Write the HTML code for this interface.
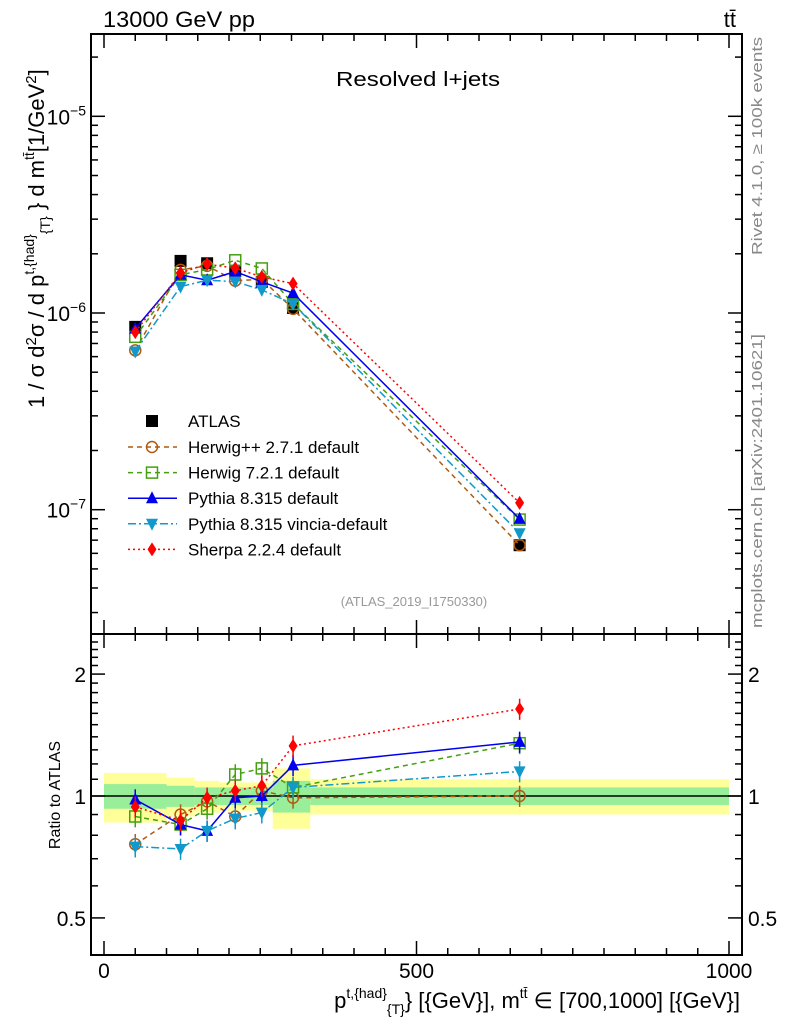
<!DOCTYPE html>
<html><head><meta charset="utf-8"><style>
body{margin:0;background:#fff;}
svg{display:block;font-family:"Liberation Sans",Arial,sans-serif;}
</style></head><body>
<svg id="chart" width="786" height="1024" viewBox="0 0 786 1024" xmlns="http://www.w3.org/2000/svg">
<text x="103" y="27" font-size="22" textLength="152" lengthAdjust="spacingAndGlyphs">13000 GeV pp</text>
<text x="736" y="27" font-size="22" text-anchor="end">tt̄</text>
<text x="336" y="86" font-size="20" textLength="164" lengthAdjust="spacingAndGlyphs">Resolved l+jets</text>
<text x="414" y="606" font-size="13" fill="#999" text-anchor="middle">(ATLAS_2019_I1750330)</text>
<text transform="translate(762,255) rotate(-90)" font-size="15" fill="#888" textLength="218" lengthAdjust="spacingAndGlyphs">Rivet 4.1.0, ≥ 100k events</text>
<text transform="translate(762,628) rotate(-90)" font-size="15" fill="#888" textLength="294" lengthAdjust="spacingAndGlyphs">mcplots.cern.ch [arXiv:2401.10621]</text>
<text transform="translate(44,408) rotate(-90)" font-size="22">1 / σ d<tspan font-size="15" dy="-8">2</tspan><tspan dy="8">σ / d p</tspan><tspan font-size="14" dy="-10">t,{had}</tspan><tspan font-size="14" dy="16">{T}</tspan><tspan dy="-6"> } d m</tspan><tspan font-size="14" dy="-10">tt̄</tspan><tspan dy="10">[1/GeV</tspan><tspan font-size="15" dy="-8">2</tspan><tspan dy="8">]</tspan></text>
<text transform="translate(60,795) rotate(-90)" font-size="16" text-anchor="middle">Ratio to ATLAS</text>
<text x="740" y="1008" font-size="22" text-anchor="end">p<tspan font-size="14" dy="-10">t,{had}</tspan><tspan font-size="14" dy="16">{T}</tspan><tspan dy="-6">} [{GeV}], m</tspan><tspan font-size="14" dy="-10">tt̄</tspan><tspan dy="10"> ∈ [700,1000] [{GeV}]</tspan></text>
<g id="g"></g>
</svg>
<script>
const binEdges=[0,100,145,185,235,270,330,1000];
const xVals=[50,122.5,165,210,252.5,302.5,665];
const atlas=[0.85e-6,1.84e-6,1.79e-6,1.64e-6,1.44e-6,1.06e-6,6.6e-8];
const bandTot=[0.14,0.11,0.09,0.08,0.08,0.17,0.10];
const bandStat=[0.07,0.06,0.05,0.05,0.05,0.09,0.05];
const rHerwigpp=[0.76,0.90,0.97,0.89,1.03,0.99,1.00];
const rHerwig7=[0.89,0.85,0.93,1.13,1.17,1.05,1.35];
const rPythia=[0.98,0.85,0.82,0.99,1.00,1.19,1.36];
const rVincia=[0.75,0.74,0.82,0.88,0.91,1.05,1.15];
const rSherpa=[0.94,0.87,0.99,1.03,1.06,1.33,1.64];
const xTicks=[0,500,1000];
const yTicks=[1e-7,1e-6,1e-5];
const rTicks=[0.5,1,2];

const NS="http://www.w3.org/2000/svg";
const g=document.getElementById('g');
const L=91,R=742,T=34,M=634,B=955;
const X=v=>104+(v)*0.625;
const Y=v=>313-196.7*Math.log10(v/1e-6);
const YR=r=>796-405*Math.log10(r);
function el(tag,attrs,parent){const e=document.createElementNS(NS,tag);for(const k in attrs)e.setAttribute(k,attrs[k]);(parent||g).appendChild(e);return e;}

const bands=el('g',{});


for(let i=0;i<xVals.length;i++){
  const x0=X(binEdges[i]),x1=X(binEdges[i+1]);
  el('rect',{x:x0,y:YR(1+bandTot[i]),width:x1-x0,height:YR(1-bandTot[i])-YR(1+bandTot[i]),fill:'#ffff99'},bands);
}
for(let i=0;i<xVals.length;i++){
  const x0=X(binEdges[i]),x1=X(binEdges[i+1]);
  el('rect',{x:x0,y:YR(1+bandStat[i]),width:x1-x0,height:YR(1-bandStat[i])-YR(1+bandStat[i]),fill:'#99ee99'},bands);
}
el('line',{x1:L,x2:R,y1:YR(1),y2:YR(1),stroke:'#000','stroke-width':1.5});

const fr=el('g',{});


el('rect',{x:L,y:T,width:R-L,height:M-T,fill:'none',stroke:'#000','stroke-width':2},fr);
el('rect',{x:L,y:M,width:R-L,height:B-M,fill:'none',stroke:'#000','stroke-width':2},fr);

for(let v=0;v<=1000;v+=50){
  const big=v%500===0, len=big?14:7;
  for(const [y0,d] of [[T,1],[M,-1],[M,1],[B,-1]]) el('line',{x1:X(v),x2:X(v),y1:y0,y2:y0+d*len,stroke:'#000','stroke-width':1.5});
}
xTicks.forEach(v=>{const t=el('text',{x:X(v),y:978,'font-size':21,'text-anchor':'middle'});t.textContent=v;

});
for(let d=-8;d<=-5;d++)for(let m=1;m<10;m++){
  const v=m*Math.pow(10,d),y=Y(v);if(y<T||y>M)continue;
  const len=m===1?14:7;
  el('line',{x1:L,x2:L+len,y1:y,y2:y,stroke:'#000','stroke-width':1.5});
  el('line',{x1:R,x2:R-len,y1:y,y2:y,stroke:'#000','stroke-width':1.5});
}
yTicks.forEach(v=>{const e=Math.round(Math.log10(v));const t=el('text',{x:86,y:Y(v)+8,'font-size':21,'text-anchor':'end'});
t.innerHTML='10<tspan font-size="14" dy="-9">'+(e<0?'−'+(-e):e)+'</tspan>';

});
[0.4,0.5,0.6,0.7,0.8,0.9,1,1.1,1.2,1.3,1.4,1.5,1.6,1.7,1.8,1.9,2,2.1,2.2,2.3,2.4].forEach(v=>{
  const y=YR(v);if(y<M||y>B)return;
  const big=[0.5,1,2].includes(v),len=big?14:7;
  el('line',{x1:L,x2:L+len,y1:y,y2:y,stroke:'#000','stroke-width':1.5});
  el('line',{x1:R,x2:R-len,y1:y,y2:y,stroke:'#000','stroke-width':1.5});
});
rTicks.forEach(v=>{
  const t=el('text',{x:86,y:YR(v)+8,'font-size':21,'text-anchor':'end'});t.textContent=v;
  
  
  const t2=el('text',{x:748,y:YR(v)+8,'font-size':21});t2.textContent=v;
  
  
});

function marker(type,x,y,col,p){
  if(type==='sq')el('rect',{x:x-6,y:y-6,width:12,height:12,fill:'#000'},p);
  if(type==='circ')el('circle',{cx:x,cy:y,r:5.5,fill:'none',stroke:col,'stroke-width':1.5},p);
  if(type==='osq')el('rect',{x:x-5.5,y:y-5.5,width:11,height:11,fill:'none',stroke:col,'stroke-width':1.5},p);
  if(type==='up')el('polygon',{points:`${x},${y-7} ${x-6},${y+5} ${x+6},${y+5}`,fill:col},p);
  if(type==='dn')el('polygon',{points:`${x},${y+7} ${x-6},${y-5} ${x+6},${y-5}`,fill:col},p);
  if(type==='dia')el('polygon',{points:`${x},${y-7} ${x-4.5},${y} ${x},${y+7} ${x+4.5},${y}`,fill:col},p);
}
const series=[
 {name:'herwigpp',r:rHerwigpp,col:'#b05a10',dash:'5,4',m:'circ',lab:'Herwig++ 2.7.1 default'},
 {name:'herwig7',r:rHerwig7,col:'#44a010',dash:'5,4',m:'osq',lab:'Herwig 7.2.1 default'},
 {name:'pythia',r:rPythia,col:'#0000ee',dash:'',m:'up',lab:'Pythia 8.315 default'},
 {name:'vincia',r:rVincia,col:'#1199cc',dash:'8,3,2,3',m:'dn',lab:'Pythia 8.315 vincia-default'},
 {name:'sherpa',r:rSherpa,col:'#ff0000',dash:'2,3',m:'dia',lab:'Sherpa 2.2.4 default'}
];
const ag=el('g',{});


atlas.forEach((v,i)=>marker('sq',X(xVals[i]),Y(v),'#000',ag));
series.forEach(s=>{
  for(const panel of ['main','ratio']){
    const grp=el('g',{});
    
    
    const pts=xVals.map((x,i)=>[X(x),panel==='main'?Y(atlas[i]*s.r[i]):YR(s.r[i])]);
    const a={points:pts.map(p=>p.join(',')).join(' '),fill:'none',stroke:s.col,'stroke-width':1.5};
    if(s.dash)a['stroke-dasharray']=s.dash;
    el('polyline',a,grp);
    pts.forEach((p,i)=>{
      if(panel==='ratio'){const e=0.06;el('line',{x1:p[0],x2:p[0],y1:YR(s.r[i]*(1+e)),y2:YR(s.r[i]*(1-e)),stroke:s.col,'stroke-width':1.5},grp);}
      marker(s.m,p[0],p[1],s.col,grp);
    });
  }
});
const lg=el('g',{});


marker('sq',152,421,'#000',lg);
let t=el('text',{x:188,y:427,'font-size':17},lg);t.textContent='ATLAS';
series.forEach((s,i)=>{
  const y=447+i*25.6;
  const a={x1:128,x2:177,y1:y,y2:y,stroke:s.col,'stroke-width':1.5};if(s.dash)a['stroke-dasharray']=s.dash;
  el('line',a,lg);marker(s.m,152,y,s.col,lg);
  const tt=el('text',{x:188,y:y+6,'font-size':17},lg);tt.textContent=s.lab;
  
  
});
</script>
</body></html>
